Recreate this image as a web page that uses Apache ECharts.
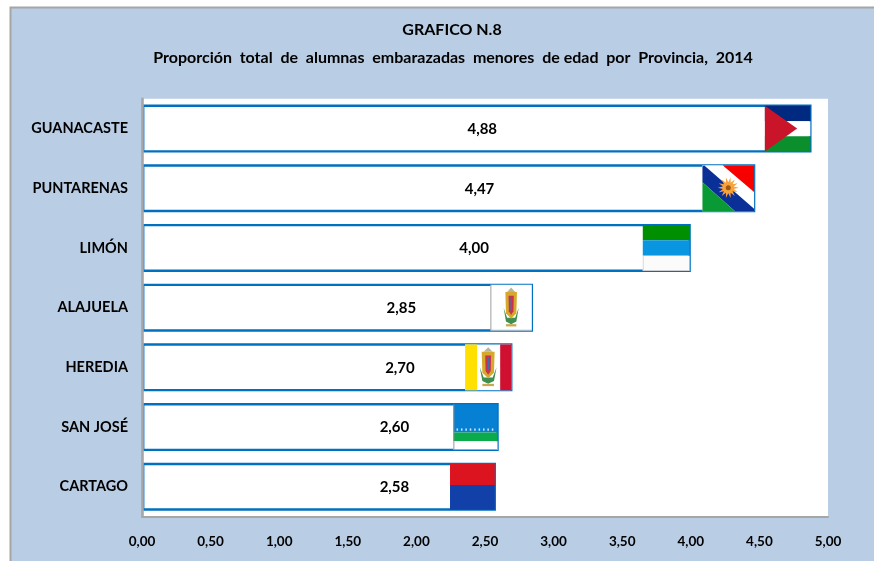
<!DOCTYPE html>
<html><head><meta charset="utf-8">
<style>html,body{margin:0;padding:0;background:#fff}#c{width:874px;height:561px}</style>
<script src="https://cdn.jsdelivr.net/npm/echarts@6/dist/echarts.min.js"></script>
</head><body><div id="c"></div>
<script>
const categories = ['GUANACASTE','PUNTARENAS','LIMÓN','ALAJUELA','HEREDIA','SAN JOSÉ','CARTAGO'];
const values = [4.88,4.47,4.00,2.85,2.70,2.60,2.58];
const flagStarts = [4.54,4.085,3.65,2.54,2.355,2.27,2.245];
const labelAnchors = [2.48,2.46,2.42,1.89,1.88,1.84,1.84];
const xTicks = [0,0.5,1,1.5,2,2.5,3,3.5,4,4.5,5];

const FONT = 'Lato';
const comma = v => v.toFixed(2).replace('.', ',');

function poly(points, fill) { return {type:'polygon', shape:{points}, style:{fill}}; }
function rect(p, u0, v0, u1, v1, fill) {
  return poly([p(u0,v0),p(u1,v0),p(u1,v1),p(u0,v1)], fill);
}
function coat(p, cu) {
  const dw = 0.14, o = [];
  o.push(poly([p(cu-dw*1.3,0.50),p(cu-dw*0.9,0.80),p(cu,0.86),p(cu+dw*0.9,0.80),p(cu+dw*1.3,0.50),p(cu+dw*0.7,0.72),p(cu-dw*0.7,0.72)],'#3f8f4f'));
  o.push(poly([p(cu-dw,0.16),p(cu+dw,0.16),p(cu+dw*0.9,0.62),p(cu,0.74),p(cu-dw*0.9,0.62)],'#d6a92c'));
  o.push(poly([p(cu-dw*0.45,0.24),p(cu+dw*0.45,0.24),p(cu+dw*0.4,0.58),p(cu,0.66),p(cu-dw*0.4,0.58)],'#c8324a'));
  o.push(rect(p,cu-dw*0.12,0.28,cu+dw*0.12,0.56,'#3d6fb0'));
  o.push(poly([p(cu-dw*0.7,0.16),p(cu,0.06),p(cu+dw*0.7,0.16)],'#b9b49a'));
  o.push(rect(p,cu-dw*0.9,0.86,cu+dw*0.9,0.91,'#c9a850'));
  return o;
}
const flags = {
  'GUANACASTE': p => [
    rect(p,0,0,1,0.34,'#002a7f'), rect(p,0,0.34,1,0.67,'#ffffff'), rect(p,0,0.67,1,1,'#0a8f2c'),
    poly([p(0,0),p(0.71,0.5),p(0,1)],'#ca1429')],
  'PUNTARENAS': (p, x0, y0, w, h) => {
    const c = p(0.5,0.49), star = [];
    for (let i=0;i<28;i++){ const r=i%2?5.5:10.5, a=i*Math.PI/14; star.push([c[0]+r*Math.cos(a),c[1]+r*Math.sin(a)]); }
    return [
      rect(p,0,0,1,1,'#ffffff'),
      poly([p(0.39,0),p(1,0),p(1,0.58)],'#f60000'),
      poly([p(0.03,0),p(1,0.95),p(1,1),p(0.63,1),p(0,0.37),p(0,0.03)],'#0a2f96'),
      poly([p(0,0.37),p(0.63,1),p(0,1)],'#0a9a35'),
      poly(star,'#f9a13a'),
      {type:'circle',shape:{cx:c[0],cy:c[1],r:2.5},style:{fill:'#9a5a10'}}];
  },
  'LIMÓN': p => [
    rect(p,0,0,1,0.33,'#008f00'), rect(p,0,0.33,1,0.67,'#0996e0'), rect(p,0,0.67,1,1,'#fbfbfb'),
    rect(p,0,0.98,1,1,'#cfcfcf'), rect(p,0,0.67,0.02,1,'#d5d5d5')],
  'ALAJUELA': p => [
    rect(p,0,0,1,1,'#ffffff'), rect(p,0,0,0.02,1,'#8a8a8a'), rect(p,0,0.98,1,1,'#b5b5b5'), ...coat(p,0.5)],
  'HEREDIA': p => [
    rect(p,0,0,1,1,'#ffffff'), rect(p,0,0,0.26,1,'#ffe000'), rect(p,0.76,0,1,1,'#cf1030'), ...coat(p,0.5)],
  'SAN JOSÉ': p => {
    const dots = [];
    for (let i=0;i<9;i++){ const u=0.07+i*0.1; dots.push(rect(p,u,0.53,u+0.035,0.58,'#cfe6f5')); }
    return [
      rect(p,0,0,1,0.62,'#0680d2'), rect(p,0,0.62,1,0.81,'#0bab4b'), rect(p,0,0.81,1,1,'#ffffff'),
      rect(p,0,0.98,1,1,'#a8a8a8'), rect(p,0,0,0.02,1,'#8a8a8a'), ...dots];
  },
  'CARTAGO': p => [ rect(p,0,0,1,0.46,'#dc1420'), rect(p,0,0.46,1,1,'#1040a8') ]
};

function renderFlag(params, api) {
  const s = api.value(0), idx = api.value(1), v = api.value(2);
  const a = api.coord([s, idx]), b = api.coord([v, idx]);
  const x0 = a[0], w = b[0] - 1.2 - a[0], h = 45.8, y0 = a[1] - h/2;
  const p = (u, t) => [x0 + u*w, y0 + t*h];
  return {type:'group', children: flags[categories[idx]](p, x0, y0, w, h)};
}
function renderLabel(params, api) {
  const c = api.coord([api.value(0), api.value(1)]);
  return {type:'text', x:c[0], y:c[1]+0.5, style:{
    text: comma(api.value(2)), fill:'#000', font:'bold 15px '+FONT, textAlign:'center', textVerticalAlign:'middle'}};
}

const chart = echarts.init(document.getElementById('c'), null, {renderer:'canvas'});
chart.setOption({
  animation:false,
  backgroundColor:'#ffffff',
  graphic:[{type:'rect', z:-10, silent:true, shape:{x:10.5,y:7.5,width:880,height:570},
    style:{fill:'#b9cde5', stroke:'#a6a6a6', lineWidth:2}}],
  title:[
    {text:'GRAFICO N.8', left:447, top:17, textAlign:'center',
     textStyle:{fontFamily:FONT,fontWeight:'bold',fontSize:16,color:'#000'}},
    {text:'Proporción  total  de  alumnas  embarazadas  menores  de edad  por  Provincia,  2014', left:448, top:45, textAlign:'center',
     textStyle:{fontFamily:FONT,fontWeight:'bold',fontSize:16,color:'#000'}}
  ],
  grid:{left:142,right:46,top:98.7,bottom:44.4,backgroundColor:'#ffffff',show:true,borderWidth:0},
  xAxis:{type:'value',min:0,max:5,interval:0.5,z:10,
    axisLine:{show:true,lineStyle:{color:'#a6a6a6',width:2}},axisTick:{show:false},splitLine:{show:false},
    axisLabel:{margin:18.5,color:'#000',fontFamily:FONT,fontWeight:'bold',fontSize:13.5,
      customValues:xTicks,formatter:v=>comma(v)}},
  yAxis:{type:'category',data:categories,inverse:true,z:10,
    axisLine:{show:true,lineStyle:{color:'#a6a6a6',width:2.6}},axisTick:{show:false},
    axisLabel:{margin:14,color:'#000',fontFamily:FONT,fontWeight:'bold',fontSize:14.5}},
  series:[
    {type:'bar',data:values,barWidth:48,itemStyle:{color:'#ffffff',borderColor:'#0070c0',borderWidth:2.4}},
    {type:'custom',renderItem:renderFlag,z:5,silent:true,
     data:flagStarts.map((s,i)=>[s,i,values[i]]),encode:{x:0,y:1}},
    {type:'custom',renderItem:renderLabel,z:6,silent:true,
     data:labelAnchors.map((s,i)=>[s,i,values[i]]),encode:{x:0,y:1}}
  ]
});
</script></body></html>
